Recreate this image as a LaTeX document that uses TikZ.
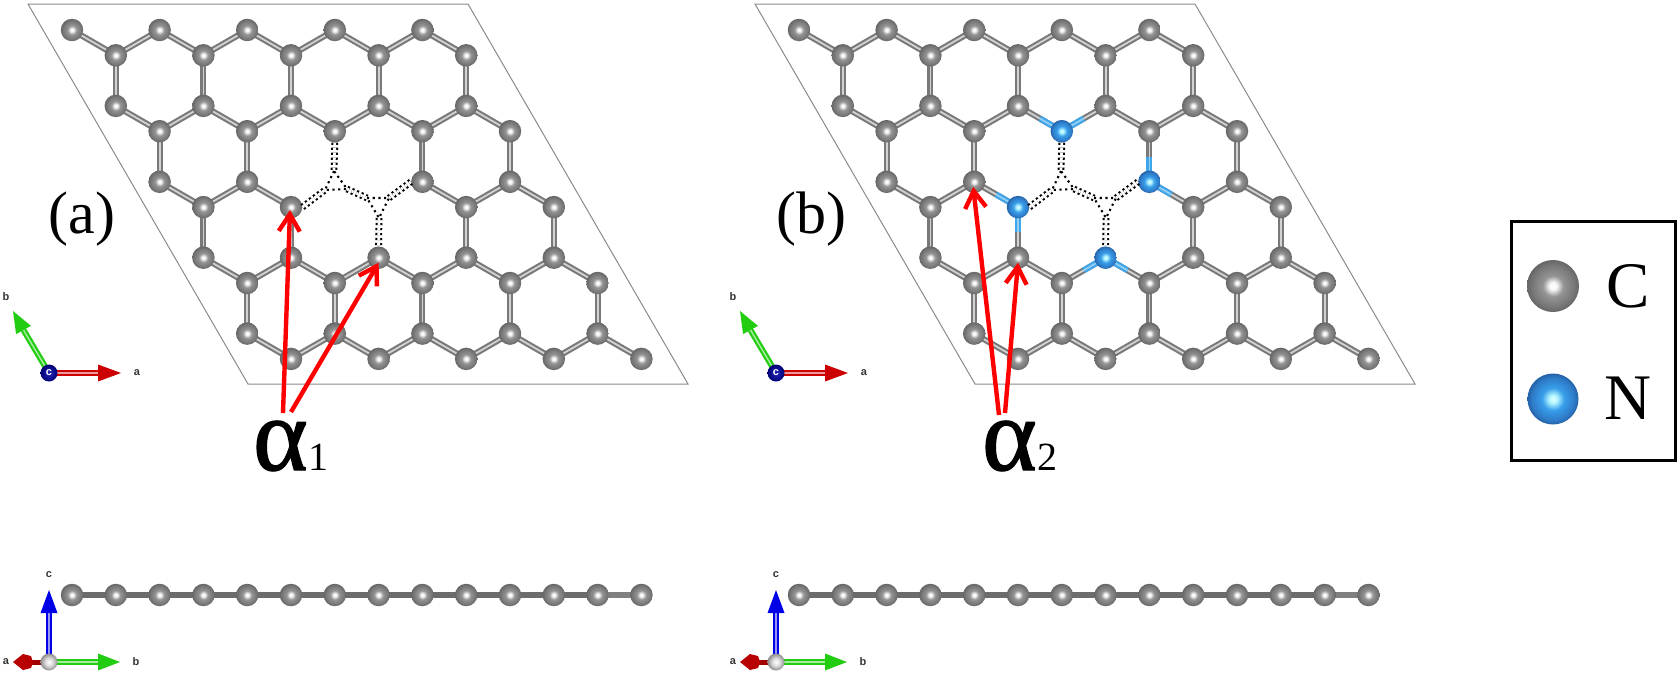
\documentclass[tikz,border=0pt]{standalone}
\usepackage{fontspec}
\setmainfont{Liberation Serif}
\newfontfamily\axisfont{Liberation Sans}
\newfontface\alphaface[FakeBold=1.4]{Liberation Serif}
\usetikzlibrary{arrows.meta,calc,backgrounds}
\pgfdeclareradialshading{ballC}{\pgfpointorigin}{rgb(0bp)=(1,1,1); rgb(3.5bp)=(.97,.97,.97); rgb(10bp)=(.58,.58,.58); rgb(20bp)=(.47,.47,.47); rgb(25bp)=(.40,.40,.40); rgb(50bp)=(.40,.40,.40)}
\pgfdeclareradialshading{ballN}{\pgfpointorigin}{rgb(0bp)=(.88,1,1); rgb(4bp)=(.70,.96,1); rgb(11bp)=(.22,.62,.92); rgb(21bp)=(.18,.48,.78); rgb(25bp)=(.14,.38,.65); rgb(50bp)=(.14,.38,.65)}
\pgfdeclareradialshading{ballW}{\pgfpointorigin}{rgb(0bp)=(1,1,1); rgb(12bp)=(.85,.85,.85); rgb(25bp)=(.55,.55,.55); rgb(50bp)=(.55,.55,.55)}
\pgfdeclareradialshading{ballB}{\pgfpointorigin}{rgb(0bp)=(.15,.15,.75); rgb(25bp)=(0,0,.45); rgb(50bp)=(0,0,.45)}
\definecolor{bondblue}{HTML}{3EA6EA}
\definecolor{framegray}{HTML}{8A8A8A}
\definecolor{axred}{HTML}{CC0000}
\definecolor{axgreen}{HTML}{22CC11}
\definecolor{axblue}{HTML}{0000E6}
\tikzset{
  x=1pt,y=-1pt,
  atomC/.style={circle,inner sep=0pt,minimum size=22.5pt,shade,shading=ballC},
  atomN/.style={shading=ballN},
  bond/.style={draw=gray!95!black,line width=2.1pt,double=gray!35,double distance=1.8pt},
  nbond/.style={draw=bondblue,line width=2.1pt,double=bondblue!55,double distance=1.8pt},
  sidebond/.style={draw=gray!85!black,line width=6pt},
  dotbond/.style={draw=black,line width=2pt,double=white,double distance=2.8pt,dash pattern=on 2.2pt off 2.8pt},
  dotline/.style={draw=black,line width=2.1pt,dash pattern=on 2.1pt off 3.6pt},
  cellframe/.style={draw=framegray,line width=1pt},
  pointer/.style={draw=red,line width=4.4pt,-{Straight Barb[length=17pt,width=21pt,line width=4.4pt]}},
  axlabel/.style={font=\axisfont\bfseries\fontsize{11}{11}\selectfont,text=black!80,inner sep=0pt},
  plabel/.style={font=\fontsize{60}{60}\selectfont,inner sep=0pt,anchor=base},
  alabel/.style={inner sep=0pt,anchor=base west},
  % nitrogen sites of panel b
  bB21/.style={atomN},bB12/.style={atomN},bA32/.style={atomN},bA23/.style={atomN},
}
\newcommand{\axisarrow}[4]{% colour, from, base of head, tip
  \draw[draw=#1,line width=2.2pt,double=#1!40,double distance=1.5pt] (#2) -- (#3);
  \fill[#1] ($(#3)!8.5pt!90:(#4)$) -- (#4) -- ($(#3)!8.5pt!-90:(#4)$) -- cycle;
}
\newcommand{\lattice}[2]{%
\begin{scope}[xshift=#2pt]
  \coordinate (#1f1) at (28,4); \coordinate (#1f2) at (468,4);
  \coordinate (#1f3) at (688,384); \coordinate (#1f4) at (248,384);
  \draw[cellframe] (#1f1) -- (#1f2) -- (#1f3) -- (#1f4) -- cycle;
  \foreach \i in {0,...,4}{\foreach \j in {0,...,4}{
    \pgfmathsetmacro{\xa}{72+87.6*\i+43.8*\j}
    \pgfmathsetmacro{\ya}{30+75.9*\j}
    \pgfmathtruncatemacro{\idx}{10*\i+\j}
    \ifnum\idx=22\relax\else
      \node[atomC,#1A\i\j/.try] (#1A\i\j) at (\xa,\ya) {};
      \node[atomC,#1B\i\j/.try] (#1B\i\j) at (\xa+43.8,\ya+25.3) {};
    \fi
  }}
  \begin{pgfonlayer}{background}
  \foreach \i in {0,...,4}{\foreach \j in {0,...,4}{
    \pgfmathtruncatemacro{\idx}{10*\i+\j}
    \pgfmathtruncatemacro{\im}{\i-1}
    \pgfmathtruncatemacro{\jp}{\j+1}
    \ifnum\idx=22\relax\else
      \draw[bond] (#1A\i\j.center) -- (#1B\i\j.center);
    \fi
    \ifnum\i>0\relax
      \ifnum\idx=22\relax\else\ifnum\idx=32\relax\else
        \draw[bond] (#1A\i\j.center) -- (#1B\im\j.center);
      \fi\fi
    \fi
    \ifnum\j<4\relax
      \ifnum\idx=21\relax\else\ifnum\idx=22\relax\else
        \draw[bond] (#1B\i\j.center) -- (#1A\i\jp.center);
      \fi\fi
    \fi
  }}
  \end{pgfonlayer}
  % reconstructed bonds around the missing pair
  \coordinate (#1t1) at (334,171); \coordinate (#1t2) at (325,190); \coordinate (#1t3) at (347,189);
  \coordinate (#1u1) at (367,198); \coordinate (#1u2) at (389,198); \coordinate (#1u3) at (379,218);
  \draw[dotbond] (#1B21.south) -- (#1t1);
  \draw[dotbond] (#1B12.east) -- (#1t2);
  \draw[dotbond] (#1t3) -- (#1u1);
  \draw[dotbond] (#1u2) -- (#1A32.west);
  \draw[dotbond] (#1u3) -- (#1A23.north);
  \draw[dotline] (#1t1) -- (#1t2) -- (#1t3) -- cycle;
  \draw[dotline] (#1u1) -- (#1u2) -- (#1u3) -- cycle;
  % top-view axes
  \node[circle,inner sep=0pt,minimum size=17pt,shade,shading=ballB] (#1oc) at (49,373) {};
  \coordinate (#1ab) at (98,373); \coordinate (#1at) at (121,373);
  \coordinate (#1bb) at (23.5,330); \coordinate (#1bt) at (13,311);
  \begin{pgfonlayer}{background}
    \axisarrow{axred}{#1oc.center}{#1ab}{#1at}
    \axisarrow{axgreen}{#1oc.center}{#1bb}{#1bt}
  \end{pgfonlayer}
  \node[axlabel,text=white] at (#1oc) {c};
  \node[axlabel] (#1la) at (137,373) {a};
  \node[axlabel] (#1lb) at (6,297) {b};
  % side view
  \foreach \k in {0,...,13}{
    \node[atomC] (#1s\k) at (72+43.8*\k,595) {};
  }
  \begin{pgfonlayer}{background}
    \draw[sidebond] (#1s0.center) -- (#1s12.center);
    \draw[sidebond,draw=gray] (#1s12.center) -- (#1s13.center);
  \end{pgfonlayer}
  % side-view axes
  \node[circle,inner sep=0pt,minimum size=17pt,shade,shading=ballW] (#1ow) at (49,662) {};
  \coordinate (#1ored) at (23,662);
  \coordinate (#1cb) at (49,613); \coordinate (#1ct) at (49,590);
  \coordinate (#1db) at (98,662); \coordinate (#1dt) at (120,662);
  \begin{pgfonlayer}{background}
    \axisarrow{axblue}{#1ow.center}{#1cb}{#1ct}
    \axisarrow{axgreen}{#1ow.center}{#1db}{#1dt}
    \draw[draw=axred!80!black,line width=5pt] (#1ored) -- (#1ow.center);
  \end{pgfonlayer}
  \fill[axred!90!black] (13,662) -- (23,654) -- (31,656) -- (33,662) -- (31,668) -- (23,670) -- cycle;
  \node[axlabel] (#1lc) at (49,575) {c};
  \node[axlabel] (#1la2) at (6,662) {a};
  \node[axlabel] (#1lb2) at (136,662) {b};
\end{scope}}
\begin{document}
\begin{tikzpicture}
\useasboundingbox (0,0) rectangle (1679,675);
\lattice{a}{0}
\lattice{b}{727}
% nitrogen half-bonds
\begin{pgfonlayer}{background}
  \foreach \n/\m in {bB21/bA21,bB21/bA31,bB12/bA12,bB12/bA13,bA32/bB31,bA32/bB32,bA23/bB13,bA23/bB23}{
    \path (\n.center) -- (\m.center) coordinate[pos=0.5] (mid);
    \draw[nbond] (\n.center) -- (mid);
  }
\end{pgfonlayer}
% panel labels
\node[plabel] (pa) at (82,233) {(a)};
\node[plabel] (pb) at (811,233) {(b)};
\node[alabel] (la1) at (253,470) {{\alphaface\fontsize{104}{104}\selectfont α}{\fontsize{40}{40}\selectfont\hspace{1pt}1}};
\node[alabel] (la2) at (982,470) {{\alphaface\fontsize{104}{104}\selectfont α}{\fontsize{40}{40}\selectfont\hspace{1pt}2}};
% pointers
\coordinate (s1) at (283,413); \coordinate (s2) at (291,412);
\coordinate (s3) at (999,415); \coordinate (s4) at (1005,413);
\draw[pointer] (s1) -- ($(aB12)+(-1,3)$);
\draw[pointer] (s2) -- ($(aA23)+(0,5)$);
\draw[pointer] (s3) -- ($(bA12)+(-1,5)$);
\draw[pointer] (s4) -- ($(bA13)+(0,5)$);
% legend
\node[draw=black,line width=3pt,minimum width=164pt,minimum height=239pt,inner sep=0pt] (legend) at (1593,340.5) {};
\node[atomC,minimum size=52pt] (legC) at (1553,286) {};
\node[atomC,atomN,minimum size=51pt] (legN) at (1553,399) {};
\node[font=\fontsize{65}{65}\selectfont,inner sep=0pt,anchor=base] (tC) at (1628,307) {C};
\node[font=\fontsize{65}{65}\selectfont,inner sep=0pt,anchor=base] (tN) at (1628,419) {N};
\end{tikzpicture}
\end{document}
